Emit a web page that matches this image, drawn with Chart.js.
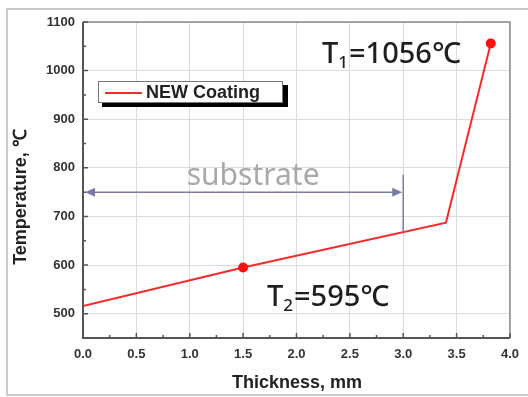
<!DOCTYPE html>
<html>
<head>
<meta charset="utf-8">
<script src="https://cdn.jsdelivr.net/npm/chart.js@4"></script>
<style>
  html, body { margin: 0; padding: 0; background: #fff; }
  #wrap { width: 528px; height: 397px; position: relative; }
</style>
</head>
<body>
<div id="wrap"><canvas id="chart"></canvas></div>
<script>
// data
const thickness = [0, 1.5, 3.4, 3.82];
const temperature = [516, 595, 687, 1056];
const markedPoints = [1, 3];
const seriesName = 'NEW Coating';
const xTicks = [0, 0.5, 1.0, 1.5, 2.0, 2.5, 3.0, 3.5, 4.0];
const yTicks = [500, 600, 700, 800, 900, 1000, 1100];
const substrateRange = [0, 3.0];
const substrateLevel = 750;

const RED = '#f52a2a';

// draws frame, inward ticks, legend, labels and the substrate arrow
const decorPlugin = {
    id: 'decor',
    beforeDraw(chart) {
        const c = chart.ctx;
        c.save();
        c.strokeStyle = '#c9c9c9';
        c.lineWidth = 2;
        c.strokeRect(7, 9, 540, 386);
        c.restore();
    },
    afterDatasetsDraw(chart) {
        const c = chart.ctx;
        const xs = chart.scales.x, ys = chart.scales.y;
        const a = chart.chartArea;
        c.save();

        // top / right frame
        c.strokeStyle = '#8a8a8a';
        c.lineWidth = 1.5;
        c.beginPath();
        c.moveTo(a.left, a.top); c.lineTo(a.right, a.top); c.lineTo(a.right, a.bottom);
        c.stroke();

        // axes
        c.strokeStyle = '#555';
        c.lineWidth = 2;
        c.beginPath();
        c.moveTo(a.left, a.top); c.lineTo(a.left, a.bottom); c.lineTo(a.right, a.bottom);
        c.stroke();

        // inward ticks
        c.lineWidth = 1.5;
        c.beginPath();
        for (let v = 0; v <= 4.001; v += 0.25) {
            const px = xs.getPixelForValue(v);
            const len = Math.abs(v * 2 - Math.round(v * 2)) < 0.01 ? 5 : 3;
            c.moveTo(px, a.bottom); c.lineTo(px, a.bottom - len);
        }
        for (let v = 500; v <= 1100; v += 50) {
            const py = ys.getPixelForValue(v);
            const len = v % 100 === 0 ? 5 : 3;
            c.moveTo(a.left, py); c.lineTo(a.left + len, py);
        }
        c.stroke();

        // substrate arrow
        const x0 = xs.getPixelForValue(substrateRange[0]) + 2;
        const x1 = xs.getPixelForValue(substrateRange[1]);
        const yA = ys.getPixelForValue(substrateLevel);
        c.strokeStyle = '#7a7aa8';
        c.fillStyle = '#7a7aa8';
        c.lineWidth = 1.5;
        c.beginPath();
        c.moveTo(x0 + 6, yA); c.lineTo(x1 - 8, yA);
        c.moveTo(x1, ys.getPixelForValue(786)); c.lineTo(x1, ys.getPixelForValue(668));
        c.stroke();
        c.beginPath();
        c.moveTo(x0, yA); c.lineTo(x0 + 10, yA - 4.5); c.lineTo(x0 + 10, yA + 4.5); c.closePath();
        c.moveTo(x1 - 1, yA); c.lineTo(x1 - 11, yA - 4.5); c.lineTo(x1 - 11, yA + 4.5); c.closePath();
        c.fill();

        c.fillStyle = '#a9a9a9';
        c.font = '30px "Noto Sans"';
        c.textAlign = 'center';
        c.textBaseline = 'alphabetic';
        c.fillText('substrate', (x0 + x1) / 2 + 9, 185);

        // legend box with shadow
        c.fillStyle = '#000';
        c.fillRect(102, 85, 186, 22);
        c.fillStyle = '#fff';
        c.fillRect(98, 81, 185, 22);
        c.strokeStyle = '#777';
        c.lineWidth = 1;
        c.strokeRect(98.5, 81.5, 184, 21);
        c.strokeStyle = RED;
        c.lineWidth = 2;
        c.beginPath(); c.moveTo(105, 93); c.lineTo(142, 93); c.stroke();
        c.fillStyle = '#222';
        c.font = 'bold 18px "Liberation Sans"';
        c.textAlign = 'left';
        c.textBaseline = 'middle';
        c.fillText(seriesName, 146, 93);

        // temperature labels
        const label = (main, sub, rest, x, y) => {
            c.fillStyle = '#1e1e1e';
            c.textAlign = 'left';
            c.textBaseline = 'alphabetic';
            c.font = '500 29px "Noto Sans"';
            c.fillText(main, x, y);
            let w = c.measureText(main).width;
            c.font = '500 17px "Noto Sans"';
            c.fillText(sub, x + w, y + 5);
            w += c.measureText(sub).width + 1;
            c.font = '500 29px "Noto Sans"';
            c.fillText(rest, x + w, y);
        };
        label('T', '1', '=' + temperature[3] + '℃', 322, 63);
        label('T', '2', '=' + temperature[1] + '℃', 267, 306);

        // axis titles
        c.fillStyle = '#222';
        c.font = 'bold 18px "Liberation Sans"';
        c.textAlign = 'center';
        c.textBaseline = 'middle';
        c.fillText('Thickness, mm', 297, 383);
        c.translate(21, 197);
        c.rotate(-Math.PI / 2);
        c.fillText('Temperature, ℃', 0, 0);
        c.restore();
    }
};

new Chart(document.getElementById('chart'), {
    type: 'line',
    data: {
        datasets: [{
            label: seriesName,
            data: thickness.map((t, i) => ({ x: t, y: temperature[i] })),
            borderColor: RED,
            borderWidth: 2,
            backgroundColor: '#ff1010',
            pointRadius: ctx => markedPoints.includes(ctx.dataIndex) ? 5 : 0,
            pointBorderWidth: 0,
            tension: 0
        }]
    },
    options: {
        responsive: true,
        maintainAspectRatio: false,
        animation: false,
        layout: { padding: { left: 0, top: 22, right: 16, bottom: 0 } },
        plugins: { legend: { display: false }, tooltip: { enabled: false } },
        scales: {
            x: {
                type: 'linear',
                min: 0, max: 4,
                afterBuildTicks: s => { s.ticks = xTicks.map(v => ({ value: v })); },
                afterFit: s => { s.height = 59; },
                grid: { color: '#dcdcdc', lineWidth: 1, drawTicks: false },
                border: { display: false },
                ticks: {
                    padding: 9,
                    color: '#333',
                    font: { family: '"Liberation Sans"', size: 13, weight: 'bold' },
                    callback: v => Number(v).toFixed(1)
                }
            },
            y: {
                min: 450, max: 1100,
                afterBuildTicks: s => { s.ticks = yTicks.map(v => ({ value: v })); },
                afterFit: s => { s.width = 83; },
                grid: { color: '#dcdcdc', lineWidth: 1, drawTicks: false },
                border: { display: false },
                ticks: {
                    padding: 8,
                    color: '#333',
                    font: { family: '"Liberation Sans"', size: 13, weight: 'bold' },
                    callback: v => String(v)
                }
            }
        }
    },
    plugins: [decorPlugin]
});
</script>
</body>
</html>
